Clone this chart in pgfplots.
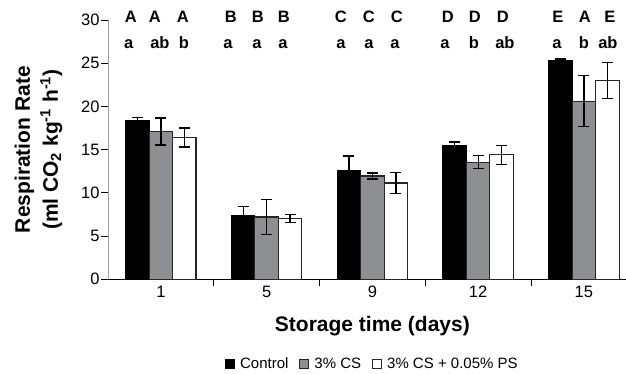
\documentclass[border=0pt]{standalone}
\usepackage{fontspec}
\setmainfont{Liberation Sans}
\usepackage{pgfplots}
\usepackage{pgfplotstable}
\pgfplotsset{compat=1.18}
\definecolor{csgray}{RGB}{142,143,146}
\pgfplotstableread{
x y e
0 18.35 0.40
1 7.40 1.00
2 12.60 1.65
3 15.45 0.45
4 25.25 0.25
}\control
\pgfplotstableread{
x y e
0 17.10 1.55
1 7.20 2.00
2 11.95 0.35
3 13.55 0.75
4 20.60 2.95
}\cs
\pgfplotstableread{
x y e
0 16.40 1.10
1 7.05 0.45
2 11.15 1.20
3 14.40 1.10
4 23.00 2.05
}\csps
\begin{document}
\begin{tikzpicture}
\useasboundingbox (-108pt,-93.7pt) rectangle (518pt,279.3pt);
\begin{axis}[
  at={(0pt,0pt)}, anchor=south west,
  scale only axis, width=518pt, height=259.3pt,
  xmin=-0.5, xmax=4.398, ymin=0, ymax=30,
  axis x line*=bottom, axis y line*=left,
  y axis line style={draw=gray!75},
  ybar,
  clip=false,
  tick align=outside, major tick length=7pt,
  tick style={black, line width=0.8pt},
  xtick={0.5,1.5,2.5,3.5}, xticklabels={},
  extra x ticks={0,1,2,3,4}, extra x tick labels={1,5,9,12,15},
  extra x tick style={major tick length=0pt, tick style={draw=none}},
  xticklabel style={yshift=-3pt},
  ytick={0,5,...,30},
  yticklabel style={xshift=2pt},
  /pgf/number format/assume math mode=true,
  tick label style={font=\fontsize{16.5}{19}\selectfont},
  xlabel={Storage time (days)},
  xlabel style={at={(axis description cs:0.5104,-0.18)}, anchor=center, font=\bfseries\fontsize{21}{24}\selectfont},
  ylabel={Respiration Rate\\(ml CO\textsubscript{2} kg\textsuperscript{-1} h\textsuperscript{-1})},
  ylabel style={at={(axis description cs:-0.134,0.5)}, anchor=center, align=center, font=\bfseries\fontsize{21}{28}\selectfont},
  legend columns=-1,
  legend image code/.code={\draw[#1, line width=1pt] (0pt,-4.5pt) rectangle (9pt,4.5pt);},
  legend style={draw=none, at={(0.5104,-0.326)}, anchor=center, font=\fontsize{15}{18}\selectfont,
    /tikz/every odd column/.append style={column sep=3pt},
    /tikz/every even column/.append style={column sep=9pt}},
  error bars/error bar style={line width=1.3pt, black},
  error bars/error mark options={rotate=90, mark size=5.5pt, line width=1.3pt, black},
]
\addplot[fill=black, draw=black, line width=1.2pt, bar width=0.222, bar shift=-0.222,
  error bars/.cd, y dir=both, y explicit] table[x=x, y=y, y error=e] {\control};
\addplot[fill=csgray, draw=black!85, line width=1.2pt, bar width=0.222, bar shift=0,
  error bars/.cd, y dir=both, y explicit] table[x=x, y=y, y error=e] {\cs};
\addplot[fill=white, draw=black!85, line width=1.2pt, bar width=0.222, bar shift=0.222,
  error bars/.cd, y dir=both, y explicit] table[x=x, y=y, y error=e] {\csps};
\legend{Control, 3\% CS, 3\% CS + 0.05\% PS}
\tikzset{lt/.style={anchor=base, font=\bfseries\fontsize{16.5}{19}\selectfont, inner sep=0pt}}
% upper-case letters
\node[lt] at (axis cs:-0.284,29.7) {A};
\node[lt] at (axis cs:-0.057,29.7) {A};
\node[lt] at (axis cs:0.208,29.7) {A};
\node[lt] at (axis cs:0.662,29.7) {B};
\node[lt] at (axis cs:0.917,29.7) {B};
\node[lt] at (axis cs:1.163,29.7) {B};
\node[lt] at (axis cs:1.702,29.7) {C};
\node[lt] at (axis cs:1.967,29.7) {C};
\node[lt] at (axis cs:2.232,29.7) {C};
\node[lt] at (axis cs:2.714,29.7) {D};
\node[lt] at (axis cs:2.969,29.7) {D};
\node[lt] at (axis cs:3.234,29.7) {D};
\node[lt] at (axis cs:3.754,29.7) {E};
\node[lt] at (axis cs:4.009,29.7) {A};
\node[lt] at (axis cs:4.246,29.7) {E};
% lower-case letters
\node[lt] at (axis cs:-0.303,26.73) {a};
\node[lt] at (axis cs:-0.009,26.73) {ab};
\node[lt] at (axis cs:0.217,26.73) {b};
\node[lt] at (axis cs:0.634,26.73) {a};
\node[lt] at (axis cs:0.908,26.73) {a};
\node[lt] at (axis cs:1.154,26.73) {a};
\node[lt] at (axis cs:1.702,26.73) {a};
\node[lt] at (axis cs:1.967,26.73) {a};
\node[lt] at (axis cs:2.213,26.73) {a};
\node[lt] at (axis cs:2.686,26.73) {a};
\node[lt] at (axis cs:2.960,26.73) {b};
\node[lt] at (axis cs:3.253,26.73) {ab};
\node[lt] at (axis cs:3.745,26.73) {a};
\node[lt] at (axis cs:4.000,26.73) {b};
\node[lt] at (axis cs:4.227,26.73) {ab};
\end{axis}
\end{tikzpicture}
\end{document}
